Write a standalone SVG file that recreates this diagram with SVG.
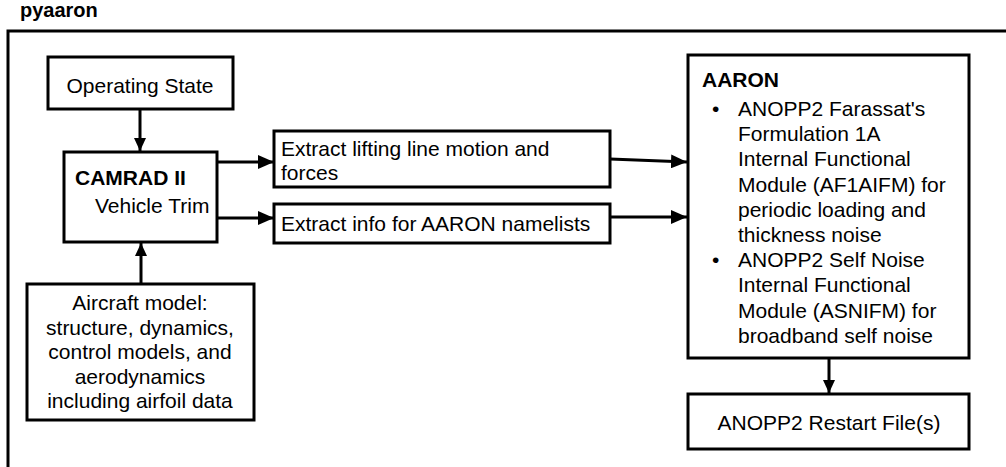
<svg xmlns="http://www.w3.org/2000/svg" width="1006" height="467" viewBox="0 0 1006 467">
<defs>
<marker id="ah" markerUnits="userSpaceOnUse" markerWidth="16" markerHeight="14" refX="16" refY="7" orient="auto">
<path d="M0,0 L16,7 L0,14 Z" fill="#000"/>
</marker>
<marker id="ahs" markerUnits="userSpaceOnUse" markerWidth="13" markerHeight="12" refX="13" refY="6" orient="auto">
<path d="M0,0 L13,6 L0,12 Z" fill="#000"/>
</marker>
<style>
.box{fill:#fff;stroke:#000;stroke-width:3}
.t{font-family:"Liberation Sans",Arial,sans-serif;font-size:21px;fill:#000}
.b{font-weight:bold}
.c{text-anchor:middle}
.ln{stroke:#000;stroke-width:3;fill:none}
</style>
</defs>
<rect width="1006" height="467" fill="#fff"/>
<text class="t b" x="20" y="17" style="font-size:20px">pyaaron</text>
<g id="frame"><rect x="8" y="31" width="1010" height="450" fill="none" stroke="#000" stroke-width="3"/></g>

<g id="connectors">
<line class="ln" x1="140" y1="109" x2="140" y2="151" marker-end="url(#ahs)"/>
<line class="ln" x1="141" y1="284" x2="141" y2="243" marker-end="url(#ahs)"/>
<line class="ln" x1="217" y1="162" x2="274" y2="162" marker-end="url(#ah)"/>
<line class="ln" x1="217" y1="218" x2="274" y2="218" marker-end="url(#ah)"/>
<line class="ln" x1="610" y1="159" x2="687" y2="162" marker-end="url(#ah)"/>
<line class="ln" x1="610" y1="217" x2="687" y2="217" marker-end="url(#ah)"/>
<line class="ln" x1="829" y1="358" x2="829" y2="393" marker-end="url(#ahs)"/>
</g>

<g id="operating-state">
<rect class="box" x="48" y="57" width="185" height="52"/>
<text class="t c" x="140" y="93">Operating State</text>
</g>

<g id="camrad">
<rect class="box" x="64" y="152" width="153" height="90"/>
<text class="t b" x="75" y="185">CAMRAD II</text>
<text class="t" x="95" y="213">Vehicle Trim</text>
</g>

<g id="aircraft-model">
<rect class="box" x="27" y="284" width="227" height="136"/>
<text class="t c" x="140" y="310">Aircraft model:</text>
<text class="t c" x="140" y="334.5">structure, dynamics,</text>
<text class="t c" x="140" y="359">control models, and</text>
<text class="t c" x="140" y="383.5">aerodynamics</text>
<text class="t c" x="140" y="408">including airfoil data</text>
</g>

<g id="extract-lifting-line">
<rect class="box" x="274" y="131" width="336" height="56"/>
<text class="t" x="281" y="156">Extract lifting line motion and</text>
<text class="t" x="281" y="180">forces</text>
</g>

<g id="extract-info">
<rect class="box" x="274" y="204" width="336" height="39"/>
<text class="t" x="281" y="231">Extract info for AARON namelists</text>
</g>

<g id="aaron">
<rect class="box" x="688" y="55" width="281" height="303"/>
<text class="t b" x="702" y="87">AARON</text>
<text class="t" x="712" y="116">•</text>
<text class="t" x="738" y="116">ANOPP2 Farassat's</text>
<text class="t" x="738" y="141.2">Formulation 1A</text>
<text class="t" x="738" y="166.4">Internal Functional</text>
<text class="t" x="738" y="191.6">Module (AF1AIFM) for</text>
<text class="t" x="738" y="216.8">periodic loading and</text>
<text class="t" x="738" y="242">thickness noise</text>
<text class="t" x="712" y="267.2">•</text>
<text class="t" x="738" y="267.2">ANOPP2 Self Noise</text>
<text class="t" x="738" y="292.4">Internal Functional</text>
<text class="t" x="738" y="317.6">Module (ASNIFM) for</text>
<text class="t" x="738" y="342.8">broadband self noise</text>
</g>

<g id="restart-files">
<rect class="box" x="688" y="394" width="281" height="55"/>
<text class="t c" x="829" y="430">ANOPP2 Restart File(s)</text>
</g>
</svg>
